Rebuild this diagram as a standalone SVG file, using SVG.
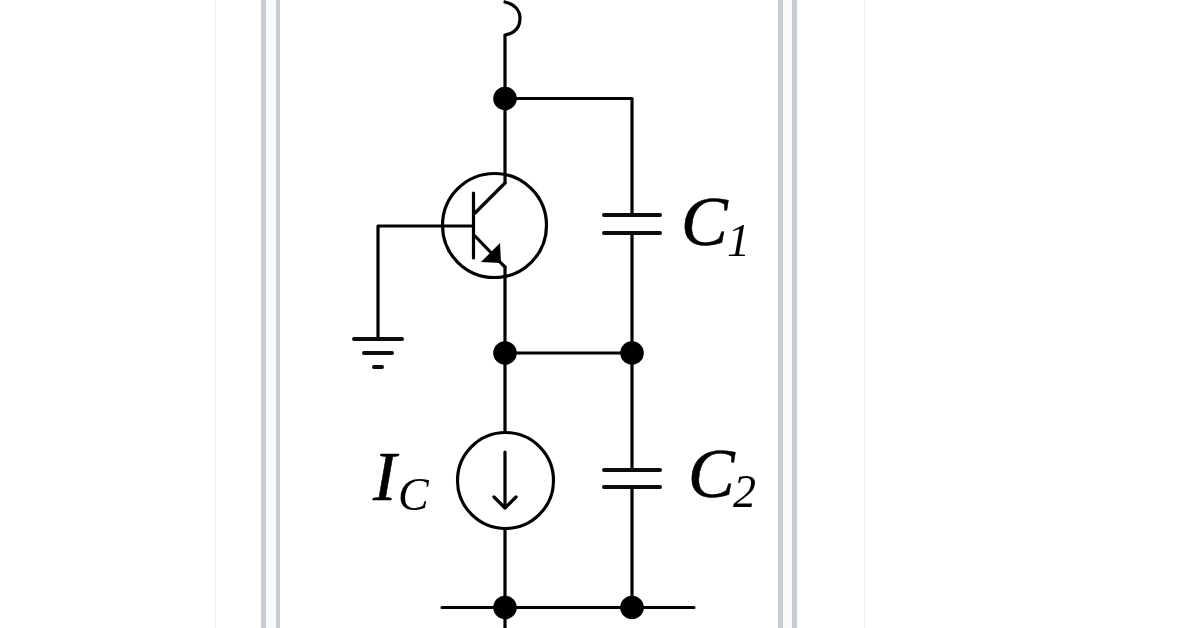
<svg xmlns="http://www.w3.org/2000/svg" width="1200" height="628" viewBox="0 0 1200 628">
<style>
.w{fill:none;stroke:#000;stroke-width:3.200;stroke-linecap:round;stroke-linejoin:round}
.p{fill:none;stroke:#111;stroke-width:4;stroke-linecap:round}
.d{fill:#000}
.t{font-family:"Liberation Serif","Times New Roman",serif;font-style:italic;fill:#000}
.b{font-size:70px;stroke:#000;stroke-width:0.600}
.s{font-size:46px}
</style>
<defs><filter id="soft" x="-5%" y="-5%" width="110%" height="110%"><feGaussianBlur stdDeviation="0.7"/></filter></defs>
<rect width="1200" height="628" fill="#fff"/>
<g id="page-frame">
<rect x="215" y="0" width="1" height="628" fill="#eeeff0"/>
<rect x="864" y="0" width="1" height="628" fill="#eeeff0"/>
<rect x="265" y="0" width="12" height="628" fill="#f8f9fa"/>
<rect x="782" y="0" width="11" height="628" fill="#f8f9fa"/>
<rect x="261" y="0" width="5" height="628" fill="#c8ccd1"/>
<rect x="276" y="0" width="4" height="628" fill="#c8ccd1"/>
<rect x="778" y="0" width="5" height="628" fill="#c8ccd1"/>
<rect x="792" y="0" width="5" height="628" fill="#c8ccd1"/>
</g>
<g filter="url(#soft)">
<g id="connectors">
<path class="w" d="M505 36V183M505 98.500H632V215M632 233V470M505 267V432M505 353H632M632 487V607M505 529V628M442 607.500H694M378 226V339M378 226H473"/>
</g>
<g id="inductor"><path class="w" d="M505 35C516 33 520 26 520 18C520 10 514 4 505 2"/></g>
<g id="transistor">
<circle class="w" cx="494.500" cy="225.500" r="52"/>
<path class="w" d="M473.500 193V258M505 183L475 213M475 236L500 262L505 267"/>
<polygon class="d" points="500,243 501,263 481,262"/>
</g>
<g id="capacitor-c1"><path class="p" d="M604 215H660M604 233H660"/></g>
<g id="capacitor-c2"><path class="p" d="M604 470H660M604 487H660"/></g>
<g id="current-source">
<circle class="w" cx="505.500" cy="480.500" r="48"/>
<path class="w" d="M505 452V508M494 497L505 508L516 497"/>
</g>
<g id="ground"><path class="p" d="M354 339H402M364 353H392M374 367H382"/></g>
<g id="junctions">
<circle class="d" cx="505" cy="98.500" r="11.800"/>
<circle class="d" cx="505" cy="353" r="11.800"/>
<circle class="d" cx="632" cy="353" r="11.800"/>
<circle class="d" cx="505" cy="607.500" r="11.800"/>
<circle class="d" cx="632" cy="607.500" r="11.800"/>
</g>
<g id="label-c1"><text class="t b" x="681" y="245">C</text><text class="t s" x="727" y="256">1</text></g>
<g id="label-c2"><text class="t b" x="688" y="497">C</text><text class="t s" x="733" y="507">2</text></g>
<g id="label-ic"><text class="t b" x="373" y="500">I</text><text class="t s" x="398" y="510">C</text></g>
</g>
</svg>
